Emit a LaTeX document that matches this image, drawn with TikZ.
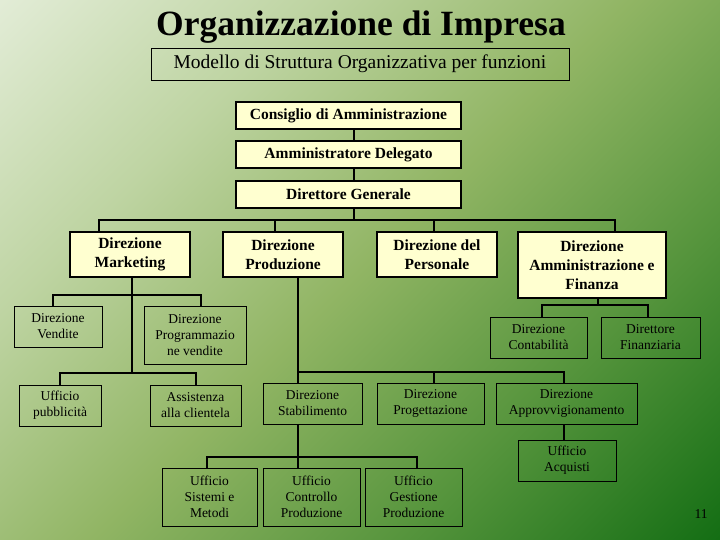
\documentclass[tikz,border=0pt]{standalone}
\usepackage{fontspec}
\setmainfont{Liberation Serif}
\definecolor{bgA}{RGB}{226,236,214}
\definecolor{bgB}{RGB}{190,212,162}
\definecolor{bgC}{RGB}{145,181,100}
\definecolor{bgD}{RGB}{85,148,60}
\definecolor{bgE}{RGB}{20,110,20}
\definecolor{boxyellow}{RGB}{255,255,208}
\pgfdeclarehorizontalshading{slidebg}{100bp}{color(0bp)=(bgA); color(14.6bp)=(bgA); color(32.3bp)=(bgB); color(50bp)=(bgC); color(67.7bp)=(bgD); color(85.4bp)=(bgE); color(100bp)=(bgE)}
\tikzset{
  topbox/.style={draw, fill=boxyellow, line width=1.1pt, inner sep=0pt, align=center,
    font=\bfseries\fontsize{15.5}{19}\selectfont},
  mainbox/.style={draw, fill=boxyellow, line width=1.3pt, inner sep=0pt, align=center,
    font=\bfseries\fontsize{15.5}{19}\selectfont},
  subbox/.style={draw, line width=0.9pt, inner sep=0pt, align=center,
    font=\fontsize{13.5}{16}\selectfont},
  conn/.style={line width=2.5pt},
  bus/.style={line width=2.5pt, line cap=rect},
}
\begin{document}
\begin{tikzpicture}[x=1pt,y=-1pt]
\useasboundingbox (0,0) rectangle (720,540);
\shade[shading=slidebg, shading angle=-45] (0,0) rectangle (720,540);

% title
\node[font=\bfseries\fontsize{35.5}{40}\selectfont, inner sep=0pt] (title) at (361,27) {Organizzazione di Impresa};
\node[draw, line width=0.9pt, minimum width=418pt, minimum height=32pt, inner sep=0pt,
  font=\rmfamily\fontsize{19.5}{22}\selectfont] (sub) at (360,64) {Modello di Struttura Organizzativa per funzioni};

% top chain
\node[topbox, minimum width=225pt, minimum height=27pt] (cda) at (348.5,115.5) {Consiglio di Amministrazione};
\node[topbox, minimum width=225pt, minimum height=27pt] (ad) at (348.5,154.5) {Amministratore Delegato};
\node[topbox, minimum width=225pt, minimum height=27pt] (dg) at (348.5,194.5) {Direttore Generale};

% level 2
\node[mainbox, minimum width=120pt, minimum height=45pt] (mk) at (130,254.5) {Direzione\\Marketing};
\node[mainbox, minimum width=120pt, minimum height=45pt] (pr) at (283,254.5) {Direzione\\Produzione};
\node[mainbox, minimum width=120pt, minimum height=45pt] (pe) at (437,254.5) {Direzione del\\Personale};
\node[mainbox, minimum width=148pt, minimum height=66pt] (af) at (592,265) {Direzione\\Amministrazione e\\Finanza};

% marketing subtree
\node[subbox, minimum width=88pt, minimum height=41pt] (dv) at (58,326.5) {Direzione\\Vendite};
\node[subbox, minimum width=102pt, minimum height=58pt] (dpv) at (195,335) {Direzione\\Programmazio\\ne vendite};
\node[subbox, minimum width=82pt, minimum height=41pt] (up) at (60,405.5) {Ufficio\\pubblicità};
\node[subbox, minimum width=91pt, minimum height=41pt] (ac) at (195.5,405.5) {Assistenza\\alla clientela};

% produzione subtree
\node[subbox, minimum width=99pt, minimum height=41pt] (ds) at (312.5,403.5) {Direzione\\Stabilimento};
\node[subbox, minimum width=107pt, minimum height=41pt] (dprog) at (430.5,403.5) {Direzione\\Progettazione};
\node[subbox, minimum width=141pt, minimum height=41pt] (dapp) at (566.5,403.5) {Direzione\\Approvvigionamento};
\node[subbox, minimum width=98pt, minimum height=41pt] (ua) at (567,460.5) {Ufficio\\Acquisti};
\node[subbox, minimum width=95pt, minimum height=58pt] (usm) at (209.5,497) {Ufficio\\Sistemi e\\Metodi};
\node[subbox, minimum width=97pt, minimum height=58pt] (ucp) at (311.5,497) {Ufficio\\Controllo\\Produzione};
\node[subbox, minimum width=97pt, minimum height=58pt] (ugp) at (413.5,497) {Ufficio\\Gestione\\Produzione};

% amministrazione subtree
\node[subbox, minimum width=97pt, minimum height=41pt] (dc) at (538.5,337.5) {Direzione\\Contabilità};
\node[subbox, minimum width=99pt, minimum height=41pt] (df) at (650.5,337.5) {Direttore\\Finanziaria};

% page number
\node[font=\fontsize{13.5}{16}\selectfont, inner sep=0pt] (pg) at (701,514) {11};

% connectors: top chain
\coordinate (j0) at (354,220);
\draw[conn] (cda.south -| j0) -- (ad.north -| j0);
\draw[conn] (ad.south -| j0) -- (dg.north -| j0);
\draw[conn] (dg.south -| j0) -- (j0);
\coordinate (b1) at (99,220);
\coordinate (b2) at (275,220);
\coordinate (b3) at (434,220);
\coordinate (b4) at (615,220);
\draw[bus] (b1) -- (b4);
\draw[conn] (b1) -- (mk.north -| b1);
\draw[conn] (b2) -- (pr.north -| b2);
\draw[conn] (b3) -- (pe.north -| b3);
\draw[conn] (b4) -- (af.north -| b4);

% marketing
\coordinate (m1) at (132,373);
\draw[conn] (mk.south -| m1) -- (m1);
\coordinate (ma) at (53,295);
\coordinate (mb) at (201,295);
\draw[bus] (ma) -- (mb);
\draw[conn] (ma) -- (dv.north -| ma);
\draw[conn] (mb) -- (dpv.north -| mb);
\coordinate (mc) at (60,373);
\coordinate (md) at (196,373);
\draw[bus] (mc) -- (md);
\draw[conn] (mc) -- (up.north -| mc);
\draw[conn] (md) -- (ac.north -| md);

% produzione
\coordinate (p0) at (298,372);
\coordinate (p1) at (434,372);
\coordinate (p2) at (564,372);
\draw[conn] (pr.south -| p0) -- (ds.north -| p0);
\draw[bus] (p0) -- (p2);
\draw[conn] (p1) -- (dprog.north -| p1);
\draw[conn] (p2) -- (dapp.north -| p2);
\draw[conn] (dapp.south -| p2) -- (ua.north -| p2);
\coordinate (s0) at (298,457);
\coordinate (s1) at (207,457);
\coordinate (s2) at (417,457);
\draw[conn] (ds.south -| s0) -- (ucp.north -| s0);
\draw[bus] (s1) -- (s2);
\draw[conn] (s1) -- (usm.north -| s1);
\draw[conn] (s2) -- (ugp.north -| s2);

% amministrazione
\coordinate (a0) at (598,305);
\coordinate (a1) at (542,305);
\coordinate (a2) at (648,305);
\draw[conn] (af.south -| a0) -- (a0);
\draw[bus] (a1) -- (a2);
\draw[conn] (a1) -- (dc.north -| a1);
\draw[conn] (a2) -- (df.north -| a2);
\end{tikzpicture}
\end{document}
